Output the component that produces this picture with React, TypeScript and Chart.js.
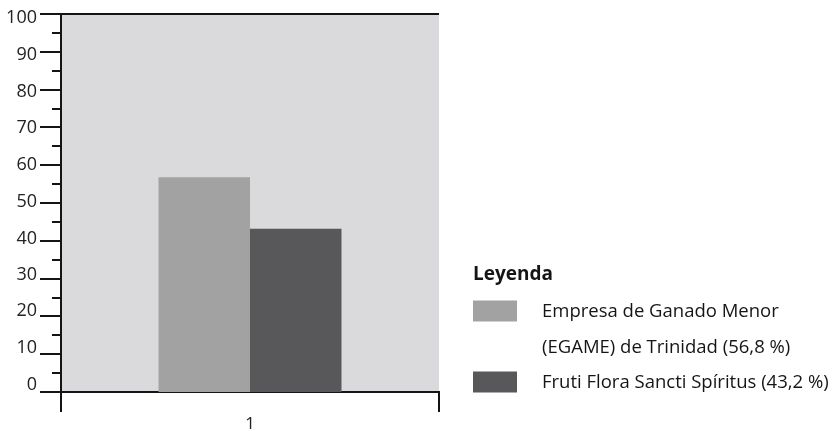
import React, { useEffect, useRef } from "react";
import { Chart, registerables } from "chart.js";

Chart.register(...registerables);

const categories = ["1"];
const seriesNames = [
  "Empresa de Ganado Menor (EGAME) de Trinidad",
  "Fruti Flora Sancti Spíritus",
];
const seriesValues = [[56.8], [43.2]];
const legendTitle = "Leyenda";
const legendLines = [
  ["Empresa de Ganado Menor", "(EGAME) de Trinidad (56,8 %)"],
  ["Fruti Flora Sancti Spíritus (43,2 %)"],
];
const yMin = 0;
const yMax = 100;
const yStep = 5;
const yLabelStep = 10;

const COLORS = ["#a2a2a3", "#58585a"];
const PLOT_BG = "#dadadc";
const AXIS = "#141414";
const FONT = "'Open Sans', 'Noto Sans', sans-serif";

const customPlugin = {
  id: "custom",
  beforeDraw(chart: any) {
    const { ctx, chartArea } = chart;
    ctx.save();
    ctx.fillStyle = PLOT_BG;
    ctx.fillRect(chartArea.left, chartArea.top, chartArea.right - chartArea.left, chartArea.bottom - chartArea.top);
    ctx.restore();
  },
  afterDraw(chart: any) {
    const { ctx, chartArea } = chart;
    const y = chart.scales.y;
    ctx.save();
    ctx.strokeStyle = AXIS;
    ctx.lineWidth = 2;
    ctx.font = `18px ${FONT}`;
    ctx.textAlign = "right";
    ctx.textBaseline = "middle";
    for (let v = yMin; v <= yMax; v += yStep) {
      const py = Math.round(y.getPixelForValue(v));
      const major = v % yLabelStep === 0;
      const len = major ? 21 : 9;
      ctx.beginPath();
      ctx.moveTo(chartArea.left - len, py);
      ctx.lineTo(v === yMax ? chartArea.right : chartArea.left, py);
      ctx.stroke();
      if (major) {
        // labels in the source sit slightly compressed relative to the ticks
        const off = 4 - 11 * (1 - (v - yMin) / (yMax - yMin));
        ctx.fillStyle = "#222";
        ctx.fillText(String(v), chartArea.left - 24, py + off);
      }
    }
    // legend
    ctx.fillStyle = "#151515";
    ctx.textBaseline = "middle";
    ctx.textAlign = "left";
    ctx.font = `bold 19px ${FONT}`;
    ctx.fillText(legendTitle, 473, 275);
    ctx.font = `18.5px ${FONT}`;
    const lineH = 35.5;
    let ly = 311;
    chart.data.datasets.forEach((ds: any, i: number) => {
      ctx.fillStyle = ds.backgroundColor;
      ctx.fillRect(473, ly - 10.5, 44, 21);
      ctx.fillStyle = "#151515";
      legendLines[i].forEach((t, j) => {
        ctx.fillText(t, 542, ly + 1 + j * lineH);
      });
      ly += legendLines[i].length * lineH;
    });
    ctx.restore();
  },
};

export default function App() {
  const ref = useRef<HTMLCanvasElement>(null);
  useEffect(() => {
    document.body.style.margin = "0";
    const chart = new Chart(ref.current!, {
      type: "bar",
      data: {
        labels: categories,
        datasets: seriesNames.map((name, i) => ({
          label: name,
          data: seriesValues[i],
          backgroundColor: COLORS[i],
          borderWidth: 0,
          barPercentage: 1,
          categoryPercentage: 0.484,
        })),
      },
      options: {
        responsive: false,
        animation: false,
        layout: { padding: { top: 14, right: 397, left: 0, bottom: 0 } },
        plugins: { legend: { display: false }, tooltip: { enabled: false } },
        scales: {
          x: {
            afterFit: (s: any) => {
              s.height = 39;
              s.paddingLeft = 0;
              s.paddingRight = 0;
            },
            grid: {
              display: true,
              drawOnChartArea: false,
              drawTicks: true,
              tickLength: 20,
              color: AXIS,
              lineWidth: 2,
              offset: true,
            },
            border: { display: true, color: AXIS, width: 2 },
            ticks: { color: "#222", font: { family: FONT, size: 17 }, padding: 2 },
          },
          y: {
            min: yMin,
            max: yMax,
            afterFit: (s: any) => {
              s.width = 61;
              s.paddingTop = 0;
              s.paddingBottom = 0;
            },
            grid: { display: false, drawTicks: false },
            border: { display: true, color: AXIS, width: 2 },
            ticks: { display: false, stepSize: yStep },
          },
        },
      },
      plugins: [customPlugin],
    });
    return () => chart.destroy();
  }, []);
  return <canvas ref={ref} width={836} height={431} style={{ display: "block" }} />;
}
